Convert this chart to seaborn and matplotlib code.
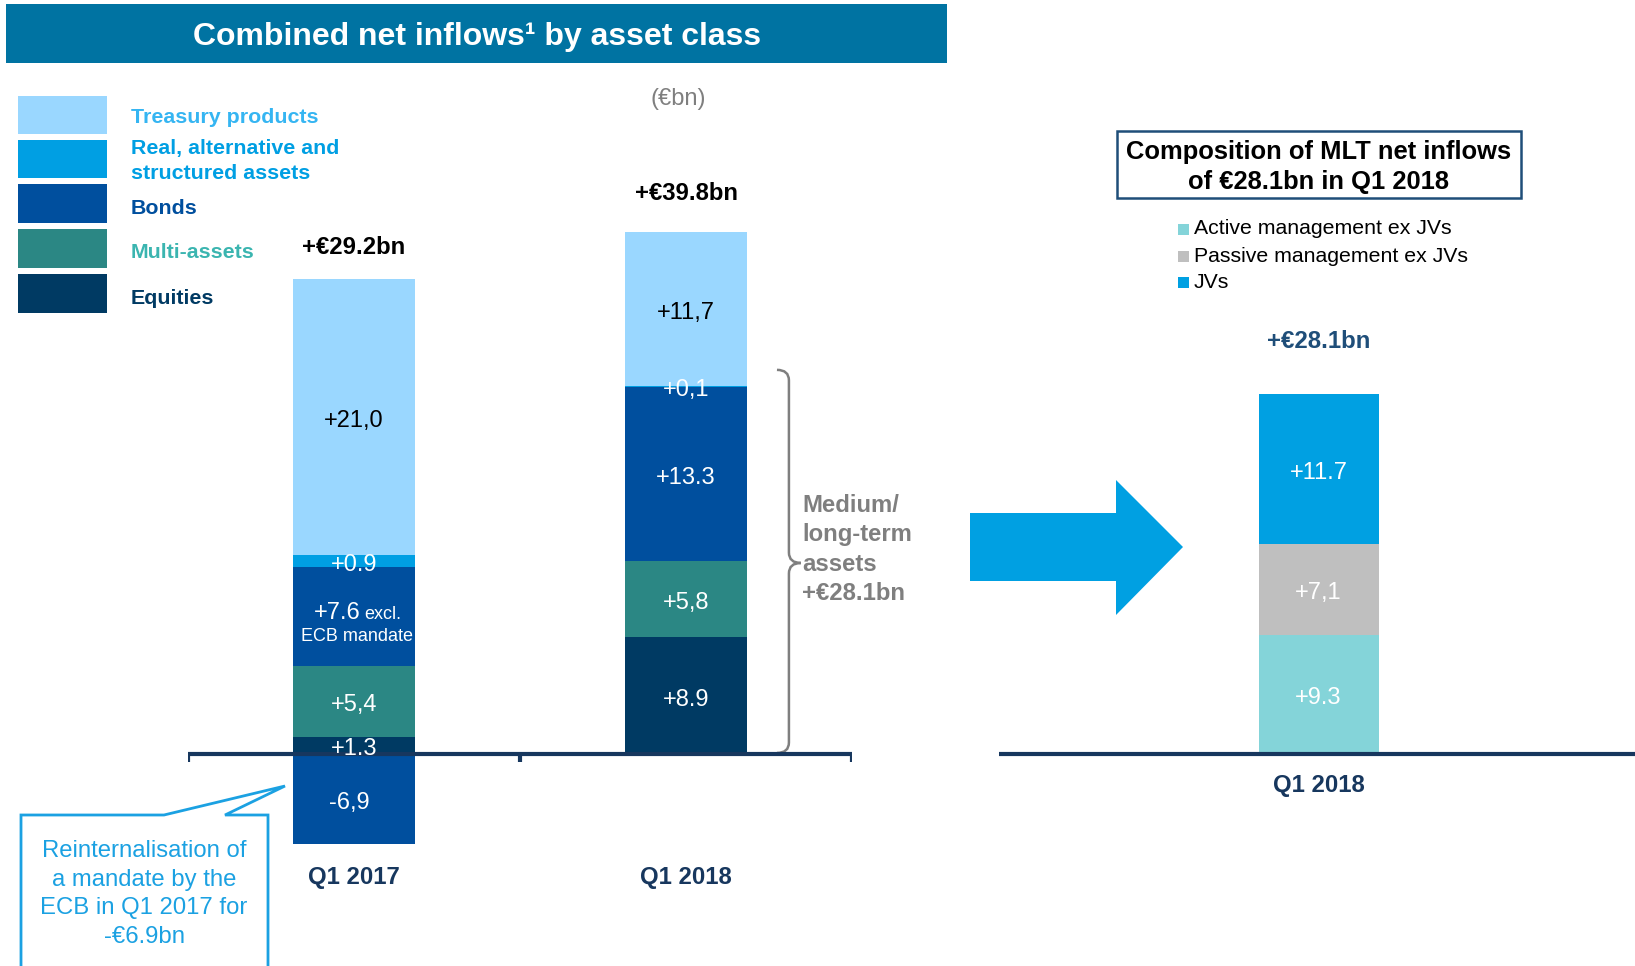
import numpy as np
import matplotlib
matplotlib.use("Agg")
import matplotlib.pyplot as plt
import seaborn as sns
from matplotlib.patches import Rectangle, Polygon, PathPatch
from matplotlib.path import Path

# ---------------------------------------------------------------------
# Data (€bn)
# ---------------------------------------------------------------------
periods = ["Q1 2017", "Q1 2018"]
asset_classes = ["Equities", "Multi-assets", "Bonds",
                 "Real, alternative and\nstructured assets", "Treasury products"]
# stack order, bottom -> top
equities = [1.3, 8.9]
multi_assets = [5.4, 5.8]
bonds = [7.6, 13.3]
real_alt = [0.9, 0.1]
treasury = [21.0, 11.7]
ecb_outflow = [-6.9]          # Q1 2017 only
ecb_label = "-6,9"
seg_labels_2017 = ["+1.3", "+5,4", "+7.6", "+0.9", "+21,0"]
seg_labels_2018 = ["+8.9", "+5,8", "+13.3", "+0,1", "+11,7"]
totals = ["+€29.2bn", "+€39.8bn"]

mlt_period = ["Q1 2018"]
mlt_parts = ["Active management ex JVs", "Passive management ex JVs", "JVs"]
mlt_values = [9.3, 7.1, 11.7]
mlt_labels = ["+9.3", "+7,1", "+11.7"]
mlt_total = "+€28.1bn"

# colours
asset_colors = ["#003A63", "#2B8784", "#004F9E", "#009FE3", "#9AD7FF"]
legend_text_colors = ["#003A63", "#3BB5B0", "#004F9E", "#009FE3", "#35B5F2"]
mlt_colors = ["#84D4D9", "#BFBFBF", "#00A0E2"]
NAVY = "#17375E"
GREY = "#7F7F7F"
CYAN = "#1BA1E2"

W, H = 1635, 966

sns.set_style("white")
plt.rcParams["font.family"] = ["Liberation Sans", "DejaVu Sans"]


def fx(x):
    return x / W


def fy(y):
    return 1 - y / H


def fig_rect(x0, y0, x1, y1):
    return [x0 / W, 1 - y1 / H, (x1 - x0) / W, (y1 - y0) / H]


fig = plt.figure(figsize=(W / 100, H / 100), dpi=100)

# ---------------------------------------------------------------------
# Banner + legend (left)
# ---------------------------------------------------------------------
fig.add_artist(Rectangle((fx(6), fy(63)), (947 - 6) / W, (63 - 4) / H,
                         transform=fig.transFigure, color="#0073A2", lw=0))
fig.text(fx(477), fy(37), "Combined net inflows¹ by asset class", color="white",
         fontsize=23, fontweight="bold", ha="center", va="center")
fig.text(fx(678), fy(99), "(€bn)", color=GREY, fontsize=17, ha="center", va="center")

leg_boxes = [(274, 313), (229, 268), (184, 223), (140, 178), (96, 134)]
leg_text_y = [298, 253, 208, 161, 117]
for i in range(len(asset_classes)):
    y0, y1 = leg_boxes[i]
    fig.add_artist(Rectangle((fx(18), fy(y1)), (107 - 18) / W, (y1 - y0) / H,
                             transform=fig.transFigure, color=asset_colors[i], lw=0))
    fig.text(fx(131), fy(leg_text_y[i]), asset_classes[i], color=legend_text_colors[i],
             fontsize=15.4, fontweight="bold", ha="left", va="center", linespacing=1.42)

# ---------------------------------------------------------------------
# Left chart: combined net inflows by asset class
# ---------------------------------------------------------------------
ax1 = fig.add_axes(fig_rect(188, 754 - 42 * 13.11, 852, 754 + 10 * 13.11))
stack = np.array([equities, multi_assets, bonds, real_alt, treasury])
tops = stack.cumsum(axis=0)
for i in reversed(range(len(stack))):
    sns.barplot(x=periods, y=tops[i], order=periods, color=asset_colors[i],
                width=0.37, saturation=1, errorbar=None, linewidth=0, ax=ax1)
sns.barplot(x=periods[:1], y=ecb_outflow, order=periods, color=asset_colors[2],
            width=0.37, saturation=1, errorbar=None, linewidth=0, ax=ax1)
ax1.set_xlim(-0.5, 1.5)
ax1.set_ylim(-10, 42)
ax1.set_axis_off()

dy = -0.3   # nudge labels onto the visual centre of each segment
total_offsets = [23, 28]
for j, labels in enumerate([seg_labels_2017, seg_labels_2018]):
    for i, lab in enumerate(labels):
        yc = tops[i][j] - stack[i][j] / 2 + dy
        col = "black" if i == len(labels) - 1 else "white"
        if j == 0 and i == 2:
            ax1.text(j + 0.02, yc + 0.1, lab, color="white", fontsize=17,
                     ha="right", va="baseline")
            ax1.text(j + 0.03, yc + 0.1, "excl.", color="white", fontsize=13,
                     ha="left", va="baseline")
            ax1.text(j + 0.01, yc - 1.2, "ECB mandate", color="white", fontsize=13,
                     ha="center", va="center")
        else:
            ax1.text(j, yc, lab, color=col, fontsize=17, ha="center", va="center",
                     zorder=6)
    ax1.annotate(totals[j], (j, tops[-1][j]), xytext=(0, total_offsets[j]),
                 textcoords="offset points", ha="center", va="center",
                 fontsize=17.2, fontweight="bold", color="black")
    ax1.text(j, -9.45, periods[j], ha="center", va="center", fontsize=17.2,
             fontweight="bold", color=NAVY)
ax1.text(-0.015, ecb_outflow[0] / 2 + dy, ecb_label, color="white", fontsize=17,
         ha="center", va="center")

ax1.axhline(0, color=NAVY, lw=3, zorder=5)
ax1.vlines([-0.5, 0.5, 1.5], -0.6, 0, color=NAVY, lw=3, zorder=5)

# curly brace for medium/long-term assets
xa, xb, xc = 1.274, 1.31, 1.346
yt, ym, yb = 29.3, 14.57, 0.08
verts = [(xa, yt), (xb, yt), (xb, yt - 0.8),
         (xb, ym + 0.8),
         (xb, ym), (xc, ym),
         (xb, ym), (xb, ym - 0.8),
         (xb, yb + 0.8),
         (xb, yb), (xa, yb)]
codes = [Path.MOVETO, Path.CURVE3, Path.CURVE3,
         Path.LINETO,
         Path.CURVE3, Path.CURVE3,
         Path.CURVE3, Path.CURVE3,
         Path.LINETO,
         Path.CURVE3, Path.CURVE3]
ax1.add_patch(PathPatch(Path(verts, codes), fill=False, ec=GREY, lw=1.8, clip_on=False))
ax1.text(1.35, 15.6, "Medium/\nlong-term\nassets\n+€28.1bn", color=GREY, fontsize=17.2,
         fontweight="bold", ha="left", va="center", linespacing=1.34)

# callout box
callout = [(21, 980), (21, 815), (164, 815), (285, 786), (225, 815), (268, 815), (268, 980)]
fig.add_artist(Polygon([(fx(x), fy(y)) for x, y in callout], closed=True, fill=False,
                       ec=CYAN, lw=2, transform=fig.transFigure))
fig.text(fx(144), fy(894), "Reinternalisation of\na mandate by the\nECB in Q1 2017 for\n-€6.9bn",
         color=CYAN, fontsize=17.2, ha="center", va="center", linespacing=1.41)

# arrow
arrow = [(970, 513), (1116, 513), (1116, 480), (1183, 547), (1116, 615), (1116, 581), (970, 581)]
fig.add_artist(Polygon([(fx(x), fy(y)) for x, y in arrow], closed=True,
                       color="#00A0E2", lw=0, transform=fig.transFigure))

# ---------------------------------------------------------------------
# Right chart: composition of MLT net inflows
# ---------------------------------------------------------------------
fig.add_artist(Rectangle((fx(1117), fy(198)), (1521 - 1117) / W, (198 - 131) / H,
                         transform=fig.transFigure, fill=False, ec="#1F4E79", lw=1.8))
fig.text(fx(1319), fy(167), "Composition of MLT net inflows\nof €28.1bn in Q1 2018",
         ha="center", va="center", fontsize=18.4, fontweight="bold", color="black",
         linespacing=1.28)

for i, (part, yy) in enumerate(zip(mlt_parts, [229, 256, 282])):
    fig.add_artist(Rectangle((fx(1178), fy(yy + 6)), 11 / W, 11 / H,
                             transform=fig.transFigure, color=mlt_colors[i], lw=0))
    fig.text(fx(1194), fy(yy), part, fontsize=15.3, ha="left", va="center", color="black")

ax2 = fig.add_axes(fig_rect(999, 754 - 32 * 12.8, 1635, 754 + 2 * 12.8))
mlt_tops = np.cumsum(mlt_values)
for i in reversed(range(len(mlt_values))):
    sns.barplot(x=mlt_period, y=[mlt_tops[i]], color=mlt_colors[i], width=0.375,
                saturation=1, errorbar=None, linewidth=0, ax=ax2)
    ax2.text(0, mlt_tops[i] - mlt_values[i] / 2 - 0.3, mlt_labels[i], color="white",
             fontsize=17, ha="center", va="center")
ax2.set_xlim(-1.0, 0.99)
ax2.set_ylim(-2, 32)
ax2.set_axis_off()
ax2.axhline(0, color=NAVY, lw=3, zorder=5)
ax2.annotate(mlt_total, (0, mlt_tops[-1]), xytext=(0, 38), textcoords="offset points",
             ha="center", va="center", fontsize=17.3, fontweight="bold", color="#1F4E79")
ax2.text(0, -2.45, mlt_period[0], ha="center", va="center", fontsize=17.2,
         fontweight="bold", color=NAVY)

fig.savefig("out.png", dpi=100)
